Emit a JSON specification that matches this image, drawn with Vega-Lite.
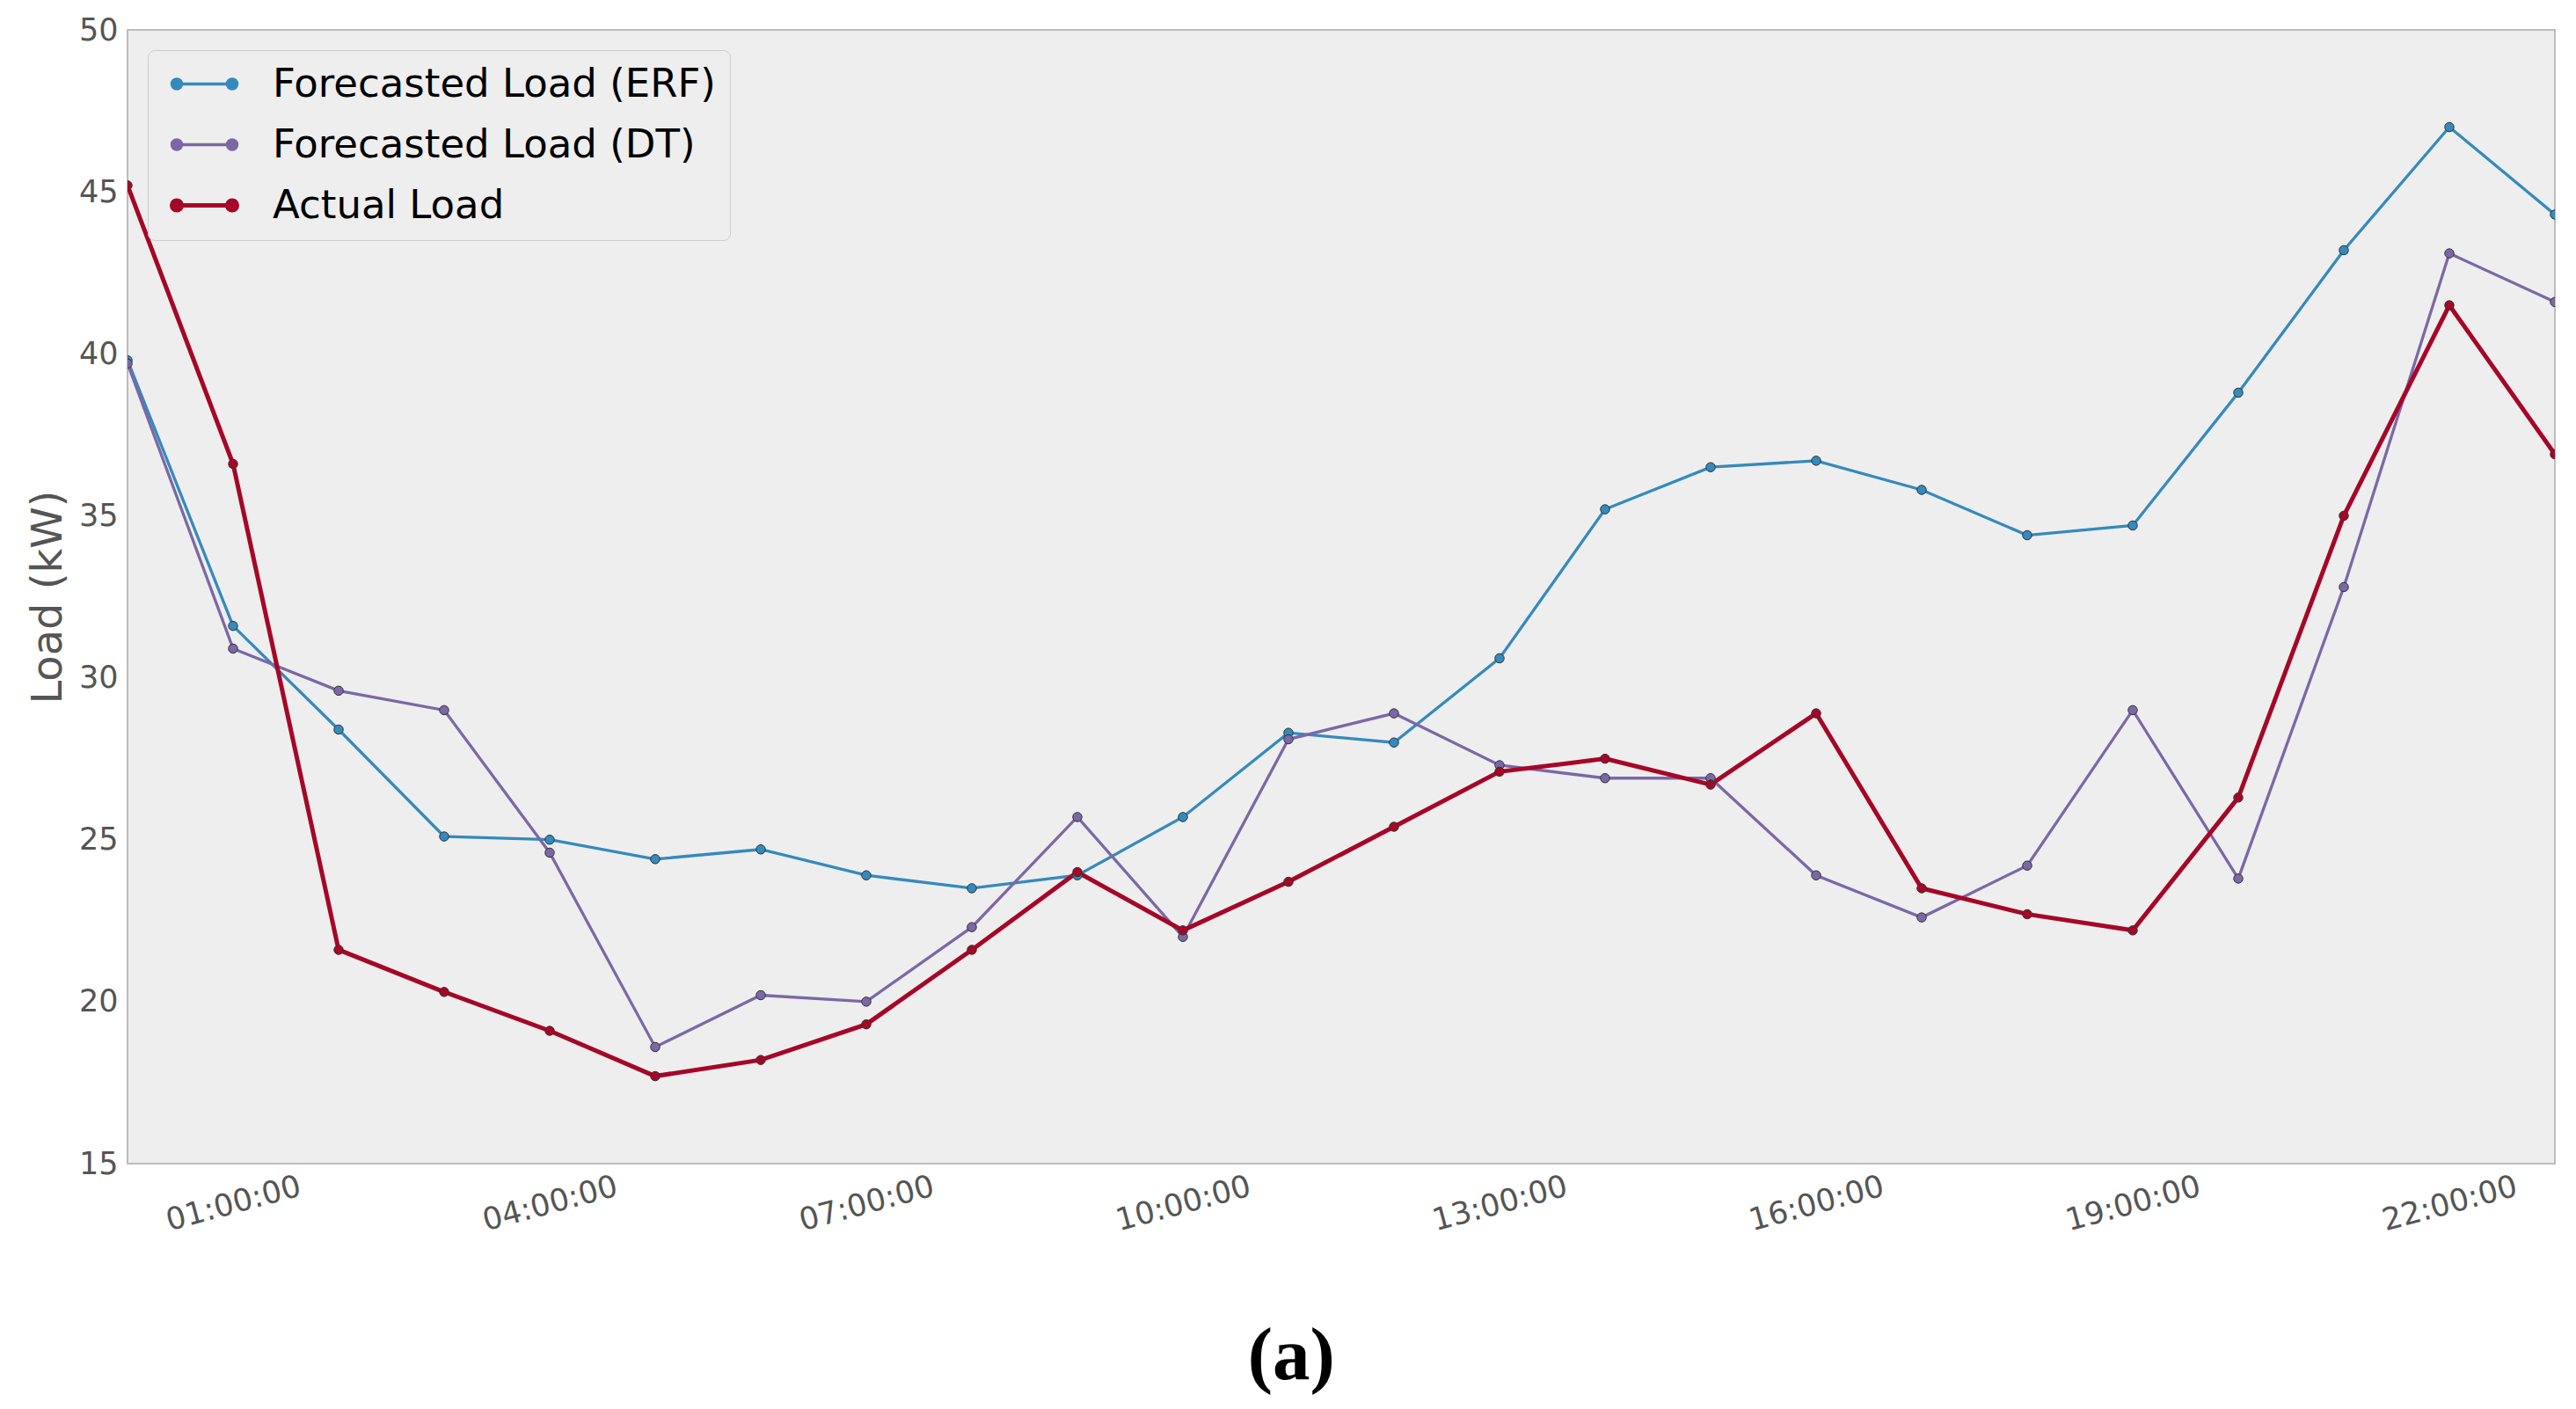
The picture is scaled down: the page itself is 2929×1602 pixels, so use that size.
{
  "$schema": "https://vega.github.io/schema/vega-lite/v6.json",
  "autosize": {"type": "none"},
  "width": 2760,
  "height": 1289,
  "padding": {"left": 145, "top": 34, "right": 24, "bottom": 279},
  "background": "white",
  "config": {
    "view": {"fill": "#eeeeee", "stroke": "#bcbcbc", "strokeWidth": 2},
    "axis": {"domain": false, "ticks": false, "grid": false, "labelFont": "DejaVu Sans", "labelFontSize": 35, "labelColor": "#555555", "titleFont": "DejaVu Sans", "titleFontSize": 48, "titleColor": "#555555", "titleFontWeight": "normal"}
  },
  "title": {"text": "(a)", "orient": "bottom", "anchor": "middle", "frame": "bounds", "font": "Liberation Serif", "fontWeight": "bold", "fontSize": 85, "color": "black", "baseline": "top", "offset": 95},
  "data": {"values": [
    {"hour": 0, "series": "Forecasted Load (ERF)", "load": 39.8},
    {"hour": 1, "series": "Forecasted Load (ERF)", "load": 31.6},
    {"hour": 2, "series": "Forecasted Load (ERF)", "load": 28.4},
    {"hour": 3, "series": "Forecasted Load (ERF)", "load": 25.1},
    {"hour": 4, "series": "Forecasted Load (ERF)", "load": 25.0},
    {"hour": 5, "series": "Forecasted Load (ERF)", "load": 24.4},
    {"hour": 6, "series": "Forecasted Load (ERF)", "load": 24.7},
    {"hour": 7, "series": "Forecasted Load (ERF)", "load": 23.9},
    {"hour": 8, "series": "Forecasted Load (ERF)", "load": 23.5},
    {"hour": 9, "series": "Forecasted Load (ERF)", "load": 23.9},
    {"hour": 10, "series": "Forecasted Load (ERF)", "load": 25.7},
    {"hour": 11, "series": "Forecasted Load (ERF)", "load": 28.3},
    {"hour": 12, "series": "Forecasted Load (ERF)", "load": 28.0},
    {"hour": 13, "series": "Forecasted Load (ERF)", "load": 30.6},
    {"hour": 14, "series": "Forecasted Load (ERF)", "load": 35.2},
    {"hour": 15, "series": "Forecasted Load (ERF)", "load": 36.5},
    {"hour": 16, "series": "Forecasted Load (ERF)", "load": 36.7},
    {"hour": 17, "series": "Forecasted Load (ERF)", "load": 35.8},
    {"hour": 18, "series": "Forecasted Load (ERF)", "load": 34.4},
    {"hour": 19, "series": "Forecasted Load (ERF)", "load": 34.7},
    {"hour": 20, "series": "Forecasted Load (ERF)", "load": 38.8},
    {"hour": 21, "series": "Forecasted Load (ERF)", "load": 43.2},
    {"hour": 22, "series": "Forecasted Load (ERF)", "load": 47.0},
    {"hour": 23, "series": "Forecasted Load (ERF)", "load": 44.3},
    {"hour": 0, "series": "Forecasted Load (DT)", "load": 39.7},
    {"hour": 1, "series": "Forecasted Load (DT)", "load": 30.9},
    {"hour": 2, "series": "Forecasted Load (DT)", "load": 29.6},
    {"hour": 3, "series": "Forecasted Load (DT)", "load": 29.0},
    {"hour": 4, "series": "Forecasted Load (DT)", "load": 24.6},
    {"hour": 5, "series": "Forecasted Load (DT)", "load": 18.6},
    {"hour": 6, "series": "Forecasted Load (DT)", "load": 20.2},
    {"hour": 7, "series": "Forecasted Load (DT)", "load": 20.0},
    {"hour": 8, "series": "Forecasted Load (DT)", "load": 22.3},
    {"hour": 9, "series": "Forecasted Load (DT)", "load": 25.7},
    {"hour": 10, "series": "Forecasted Load (DT)", "load": 22.0},
    {"hour": 11, "series": "Forecasted Load (DT)", "load": 28.1},
    {"hour": 12, "series": "Forecasted Load (DT)", "load": 28.9},
    {"hour": 13, "series": "Forecasted Load (DT)", "load": 27.3},
    {"hour": 14, "series": "Forecasted Load (DT)", "load": 26.9},
    {"hour": 15, "series": "Forecasted Load (DT)", "load": 26.9},
    {"hour": 16, "series": "Forecasted Load (DT)", "load": 23.9},
    {"hour": 17, "series": "Forecasted Load (DT)", "load": 22.6},
    {"hour": 18, "series": "Forecasted Load (DT)", "load": 24.2},
    {"hour": 19, "series": "Forecasted Load (DT)", "load": 29.0},
    {"hour": 20, "series": "Forecasted Load (DT)", "load": 23.8},
    {"hour": 21, "series": "Forecasted Load (DT)", "load": 32.8},
    {"hour": 22, "series": "Forecasted Load (DT)", "load": 43.1},
    {"hour": 23, "series": "Forecasted Load (DT)", "load": 41.6},
    {"hour": 0, "series": "Actual Load", "load": 45.2},
    {"hour": 1, "series": "Actual Load", "load": 36.6},
    {"hour": 2, "series": "Actual Load", "load": 21.6},
    {"hour": 3, "series": "Actual Load", "load": 20.3},
    {"hour": 4, "series": "Actual Load", "load": 19.1},
    {"hour": 5, "series": "Actual Load", "load": 17.7},
    {"hour": 6, "series": "Actual Load", "load": 18.2},
    {"hour": 7, "series": "Actual Load", "load": 19.3},
    {"hour": 8, "series": "Actual Load", "load": 21.6},
    {"hour": 9, "series": "Actual Load", "load": 24.0},
    {"hour": 10, "series": "Actual Load", "load": 22.2},
    {"hour": 11, "series": "Actual Load", "load": 23.7},
    {"hour": 12, "series": "Actual Load", "load": 25.4},
    {"hour": 13, "series": "Actual Load", "load": 27.1},
    {"hour": 14, "series": "Actual Load", "load": 27.5},
    {"hour": 15, "series": "Actual Load", "load": 26.7},
    {"hour": 16, "series": "Actual Load", "load": 28.9},
    {"hour": 17, "series": "Actual Load", "load": 23.5},
    {"hour": 18, "series": "Actual Load", "load": 22.7},
    {"hour": 19, "series": "Actual Load", "load": 22.2},
    {"hour": 20, "series": "Actual Load", "load": 26.3},
    {"hour": 21, "series": "Actual Load", "load": 35.0},
    {"hour": 22, "series": "Actual Load", "load": 41.5},
    {"hour": 23, "series": "Actual Load", "load": 36.9}
  ]},
  "encoding": {
    "x": {"field": "hour", "type": "quantitative", "scale": {"domain": [0, 23], "nice": false, "zero": false},
      "axis": {"title": null, "values": [1, 4, 7, 10, 13, 16, 19, 22], "labelExpr": "(datum.value < 10 ? '0' : '') + datum.value + ':00:00'", "labelAngle": -15, "labelAlign": "center", "labelBaseline": "middle", "labelPadding": 45, "labelFlush": false, "labelOverlap": false}},
    "y": {"field": "load", "type": "quantitative", "scale": {"domain": [15, 50], "nice": false, "zero": false},
      "axis": {"title": "Load (kW)", "values": [15, 20, 25, 30, 35, 40, 45, 50], "labelPadding": 11, "titlePadding": 10, "labelFlush": false}},
    "color": {"field": "series", "type": "nominal",
      "scale": {"domain": ["Forecasted Load (ERF)", "Forecasted Load (DT)", "Actual Load"], "range": ["#348ABD", "#7A68A6", "#A60628"]},
      "legend": {"title": null, "orient": "none", "legendX": 23, "legendY": 23, "fillColor": "#eeeeee", "strokeColor": "#cccccc", "cornerRadius": 8, "padding": 16, "rowPadding": 23, "symbolOffset": 26, "labelOffset": 55, "labelFont": "DejaVu Sans", "labelFontSize": 45, "labelColor": "black", "symbolSize": 3969, "symbolType": "M-1,0L1,0M-1.175,0a0.175,0.175 0 1,0 0.35,0a0.175,0.175 0 1,0 -0.35,0M0.825,0a0.175,0.175 0 1,0 0.35,0a0.175,0.175 0 1,0 -0.35,0", "symbolStrokeWidth": 4, "labelLimit": 1000,
        "encode": {"symbols": {"update": {"fill": {"scale": "color", "field": "value"}, "stroke": {"scale": "color", "field": "value"}, "strokeWidth": {"signal": "datum.value === 'Actual Load' ? 5 : 3.5"}}}}}
    }
  },
  "layer": [
    {"mark": {"type": "line", "clip": true},
     "encoding": {"strokeWidth": {"condition": {"test": "datum.series === 'Actual Load'", "value": 5}, "value": 3.3}}},
    {"mark": {"type": "point", "filled": true, "clip": true, "size": 110, "stroke": "#333333", "strokeWidth": 1, "opacity": 1}}
  ]
}
